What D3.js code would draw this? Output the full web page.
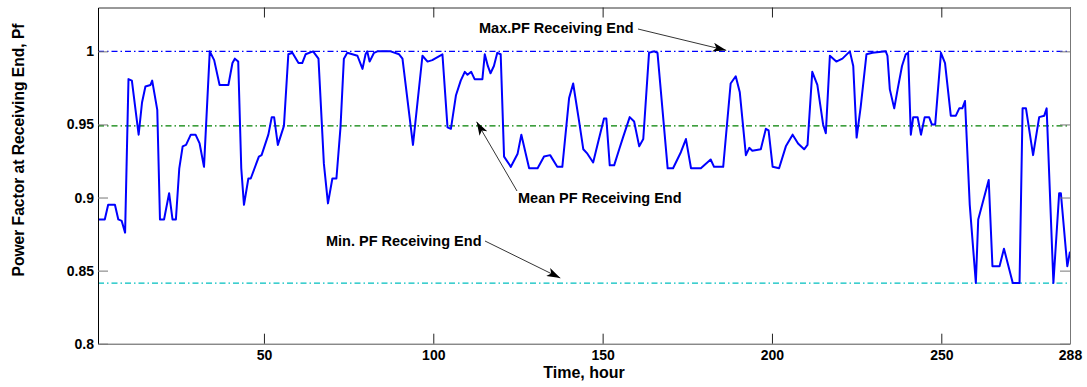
<!DOCTYPE html>
<html>
<head>
<meta charset="utf-8">
<script src="https://cdn.jsdelivr.net/npm/d3@7/dist/d3.min.js"></script>
<style>
  html, body { margin: 0; padding: 0; background: #fff; }
  svg { display: block; }
  text { font-family: Arial, "Liberation Sans", sans-serif; font-weight: bold; fill: #000; }
</style>
</head>
<body>
<svg id="chart" width="1087" height="387"></svg>
<script>
// ---- data ----
const hours = [1,3,4,6,7,8,9,10,11,13,14,15,16.5,17,18.5,19.3,20.5,22,23,24,25,26,27,28.4,29.8,31,32.3,34,35.3,36.9,39.5,40.7,41.4,42.4,43.3,44.1,45.4,46.1,48.5,49.3,51.3,52.3,53,54.1,55.9,57.2,58.4,60.2,61.3,62.3,64.5,66.1,67.7,68.9,70.2,71.4,72.6,73.6,74.6,77.6,79.1,80,80.5,81.2,82.5,83.5,87.4,89.9,90.9,94,96.8,98.3,99.7,102.7,104.2,105.2,106.7,108.1,109.3,110.1,111.2,112.2,114.5,115.2,116.1,116.9,117.9,118.9,119.9,120.9,122.9,124.9,126,127.3,128.3,130.8,132.7,134.5,136.6,138.1,140.1,141.3,143,144.3,145.5,147.2,148.9,150.4,151.1,152.1,153.4,154.9,156,158,159.3,160.8,162,163.7,165.2,166.2,169.2,170.8,173.1,174.6,176.1,179,181.9,182.9,185.6,187.8,189.3,190.5,192.3,193.3,194.2,196.7,198.2,199,200.2,202.1,204.1,206.1,207.7,209.5,210.5,211.9,213.4,215.1,215.9,217.1,219,220.8,223,224,225,226.2,227.9,229.7,233.6,234.1,234.8,236.1,237.1,238.4,239.5,240.2,241,241.7,243,244,245.1,246.4,247.2,248.2,249.9,251.1,252.8,254.3,255.3,256.2,257,258.4,260.2,260.9,264,265.1,267.2,268.5,271.1,273.1,274,275,277.1,278.9,280.4,281.1,283.1,284.8,285.3,287.2,288];
const pfValues = [0.885,0.885,0.895,0.895,0.885,0.884,0.876,0.981,0.980,0.943,0.965,0.976,0.977,0.980,0.960,0.885,0.885,0.903,0.885,0.885,0.920,0.935,0.936,0.943,0.943,0.937,0.921,1.000,0.994,0.977,0.977,0.992,0.995,0.993,0.920,0.895,0.913,0.913,0.928,0.929,0.943,0.955,0.955,0.936,0.949,0.998,0.999,0.992,0.992,0.998,1.000,0.995,0.923,0.896,0.913,0.913,0.948,0.995,0.999,0.997,0.988,0.998,1.000,0.993,0.999,1.000,1.000,0.998,0.995,0.936,0.997,0.993,0.994,0.998,0.948,0.947,0.970,0.980,0.986,0.984,0.986,0.981,0.981,0.998,0.990,0.985,0.990,0.999,0.998,0.928,0.921,0.930,0.943,0.930,0.920,0.920,0.928,0.929,0.921,0.921,0.968,0.978,0.953,0.933,0.930,0.924,0.940,0.954,0.954,0.922,0.922,0.933,0.941,0.955,0.952,0.935,0.940,0.999,1.000,0.999,0.920,0.920,0.931,0.940,0.920,0.920,0.926,0.921,0.921,0.978,0.983,0.972,0.929,0.934,0.932,0.933,0.947,0.946,0.921,0.920,0.935,0.943,0.937,0.933,0.936,0.986,0.977,0.950,0.944,0.997,0.993,0.995,1.000,0.990,0.941,0.962,0.998,0.999,1.000,0.997,0.974,0.961,0.974,0.990,0.998,0.999,0.943,0.955,0.955,0.943,0.955,0.955,0.950,0.950,0.999,0.992,0.956,0.956,0.961,0.961,0.966,0.895,0.8415,0.885,0.912,0.853,0.853,0.865,0.8415,0.8415,0.961,0.961,0.929,0.955,0.956,0.961,0.8415,0.903,0.903,0.853,0.863];
const maxPF = 1.0;
const meanPF = 0.949;
const minPF = 0.8415;
const xTicks = [50, 100, 150, 200, 250, 288];
const yTicks = [0.8, 0.85, 0.9, 0.95, 1];
const yTickLabels = ["0.8", "0.85", "0.9", "0.95", "1"];

// ---- layout ----
const L = 98, R = 1070, T = 7.5, B = 343.7;
const svg = d3.select("#chart");
const x = d3.scaleLinear().domain([1, 288]).range([L, R]);
const y = d3.scaleLinear().domain([0.8, 1.03]).range([B, T]);

// arrow marker
svg.append("defs").append("marker")
  .attr("id", "ah").attr("viewBox", "0 0 12 8").attr("refX", 12).attr("refY", 4)
  .attr("markerWidth", 14).attr("markerHeight", 9).attr("markerUnits", "userSpaceOnUse")
  .attr("orient", "auto")
  .append("path").attr("d", "M0,0 L12,4 L0,8 L3,4 Z").attr("fill", "#000");

// reference lines
const refs = [
  { v: maxPF, c: "#0000ff" },
  { v: meanPF, c: "#008000" },
  { v: minPF, c: "#00bfbf" }
];
svg.append("g").selectAll("line").data(refs).join("line")
  .attr("x1", L).attr("x2", R)
  .attr("y1", d => y(d.v)).attr("y2", d => y(d.v))
  .attr("stroke", d => d.c).attr("stroke-width", 1.3)
  .attr("stroke-dasharray", "6,3,1.5,3");

// data line
const pts = hours.map((h, i) => [h, pfValues[i]]);
svg.append("path").datum(pts)
  .attr("fill", "none").attr("stroke", "#0000ff").attr("stroke-width", 2)
  .attr("stroke-linejoin", "round")
  .attr("d", d3.line().x(d => x(d[0])).y(d => y(d[1])));

// axes
const gB = svg.append("g").attr("transform", `translate(0,${B})`)
  .call(d3.axisBottom(x).tickValues(xTicks).tickFormat(d3.format("d")).tickSizeInner(-10).tickSizeOuter(0).tickPadding(6));
gB.select(".domain").attr("stroke", "#555");
gB.selectAll(".tick line").attr("stroke", "#222");
gB.selectAll("text").style("font-size", "14px");

const gT = svg.append("g").attr("transform", `translate(0,${T})`)
  .call(d3.axisTop(x).tickValues(xTicks).tickFormat("").tickSizeInner(-10).tickSizeOuter(0));
gT.select(".domain").attr("stroke", "#333");
gT.selectAll(".tick line").attr("stroke", "#222");

const gL = svg.append("g").attr("transform", `translate(${L},0)`)
  .call(d3.axisLeft(y).tickValues(yTicks).tickFormat((d, i) => yTickLabels[i]).tickSizeInner(-10).tickSizeOuter(0).tickPadding(4));
gL.select(".domain").attr("stroke", "#000");
gL.selectAll(".tick line").attr("stroke", "#777");
gL.selectAll("text").style("font-size", "14px");

const gR = svg.append("g").attr("transform", `translate(${R},0)`)
  .call(d3.axisRight(y).tickValues(yTicks).tickFormat("").tickSizeInner(-10).tickSizeOuter(0));
gR.select(".domain").attr("stroke", "#777");
gR.selectAll(".tick line").attr("stroke", "#777");

svg.selectAll(".tick text").attr("font-weight", "bold").attr("fill", "#000");

// axis titles
svg.append("text").attr("x", (L + R) / 2).attr("y", 378)
  .attr("text-anchor", "middle").style("font-size", "16px").text("Time, hour");
svg.append("text").attr("transform", "translate(24,150) rotate(-90)")
  .attr("text-anchor", "middle").style("font-size", "15.6px").text("Power Factor at Receiving End, Pf");

// annotations
const ann = [
  { t: "Max.PF Receiving End", tx: 479, ty: 33, x1: 638, y1: 29, x2: x(186.5), y2: y(maxPF) - 1 },
  { t: "Mean PF Receiving End", tx: 518, ty: 203, x1: 517, y1: 191, x2: x(112.8), y2: y(0.9484) - 5 },
  { t: "Min. PF Receiving End", tx: 326, ty: 246, x1: 485, y1: 241, x2: x(137.5), y2: y(minPF) - 5 }
];
const ga = svg.append("g");
ga.selectAll("text").data(ann).join("text")
  .attr("x", d => d.tx).attr("y", d => d.ty).style("font-size", "14.5px").text(d => d.t);
ga.selectAll("line").data(ann).join("line")
  .attr("x1", d => d.x1).attr("y1", d => d.y1).attr("x2", d => d.x2).attr("y2", d => d.y2)
  .attr("stroke", "#000").attr("stroke-width", 0.8).attr("marker-end", "url(#ah)");
</script>
</body>
</html>
